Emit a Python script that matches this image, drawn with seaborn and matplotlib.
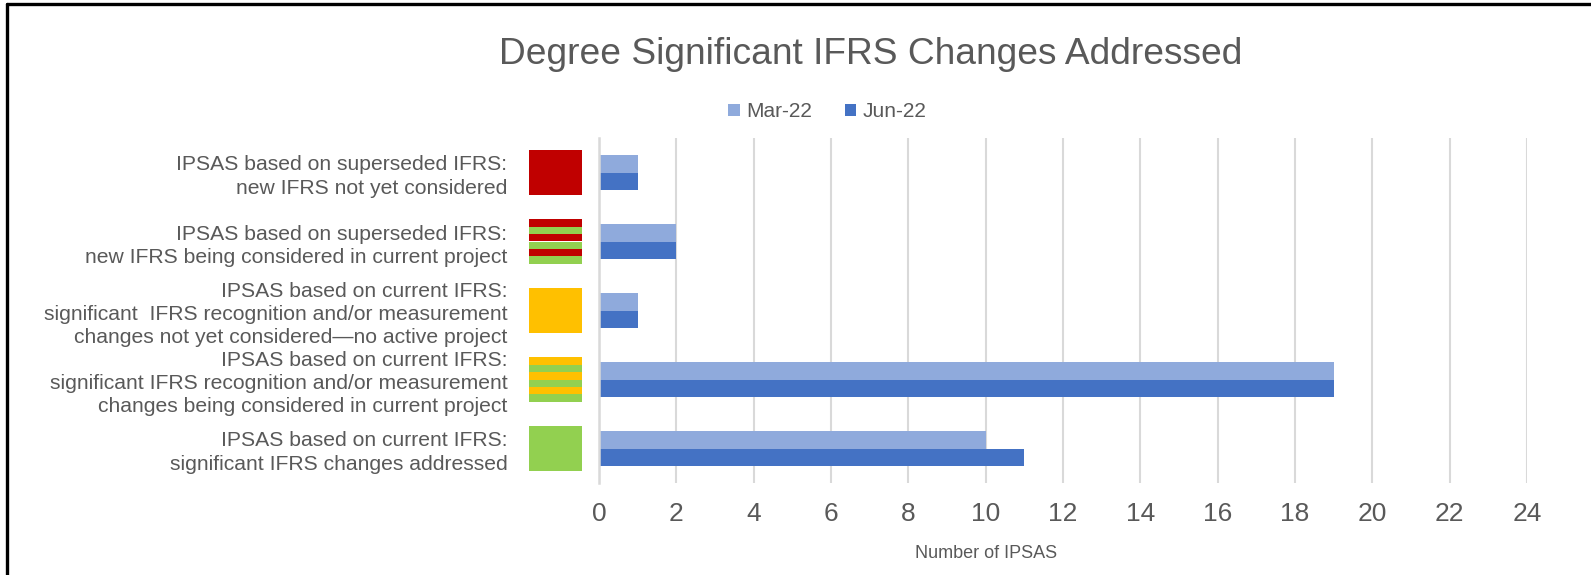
import matplotlib
matplotlib.use("Agg")
import matplotlib.pyplot as plt
import matplotlib.transforms as mtransforms
from matplotlib.patches import Rectangle
from matplotlib.lines import Line2D
import seaborn as sns
import pandas as pd

categories = [
    "IPSAS based on superseded IFRS:\nnew IFRS not yet considered",
    "IPSAS based on superseded IFRS:\nnew IFRS being considered in current project",
    "IPSAS based on current IFRS:\nsignificant  IFRS recognition and/or measurement\nchanges not yet considered\u2014no active project",
    "IPSAS based on current IFRS:\nsignificant IFRS recognition and/or measurement\nchanges being considered in current project",
    "IPSAS based on current IFRS:\nsignificant IFRS changes addressed",
]
series_names = ["Mar-22", "Jun-22"]
mar22 = [1, 2, 1, 19, 10]
jun22 = [1, 2, 1, 19, 11]
x_ticks = [0, 2, 4, 6, 8, 10, 12, 14, 16, 18, 20, 22, 24]
# icon colours per category (stripes alternate when two colours given)
icon_colors = [
    ["#C00000"],
    ["#C00000", "#92D050"],
    ["#FFC000"],
    ["#FFC000", "#92D050"],
    ["#92D050"],
]
series_colors = ["#8FAADC", "#4472C4"]

TEXT = "#595959"

df = pd.DataFrame({
    "category": categories * 2,
    "period": [series_names[0]] * len(categories) + [series_names[1]] * len(categories),
    "value": mar22 + jun22,
})

sns.set_theme(style="white")
plt.rcParams["font.family"] = ["Liberation Sans", "DejaVu Sans"]

fig = plt.figure(figsize=(15.91, 5.75), dpi=100)
ax = fig.add_axes([599 / 1591, 1 - 483 / 575, (1527 - 599) / 1591, (483 - 138) / 575])

sns.barplot(data=df, y="category", x="value", hue="period", order=categories,
            hue_order=series_names, palette=series_colors, orient="h",
            width=0.52, gap=0, saturation=1, ax=ax, legend=False, edgecolor="none")

ax.set_xlim(0, 24)
ax.set_ylim(len(categories) - 0.5, -0.5)
ax.set_xticks(x_ticks)
ax.set_xticklabels([str(t) for t in x_ticks], fontsize=19, color=TEXT)
ax.tick_params(axis="x", length=0, pad=14)
ax.tick_params(axis="y", length=0, pad=66)
for lbl in ax.get_yticklabels():
    lbl.set_fontsize(15.2)
    lbl.set_color(TEXT)
    lbl.set_linespacing(1.28)
    lbl.set_horizontalalignment("right")
ax.set_ylabel("")
ax.set_xlabel("")
ax.grid(axis="x", color="#D9D9D9", linewidth=1.5)
ax.set_axisbelow(True)
for s in ["top", "right", "bottom"]:
    ax.spines[s].set_visible(False)
ax.spines["left"].set_color("#D9D9D9")
ax.spines["left"].set_linewidth(1.8)

# status icons left of the axis
trans = mtransforms.blended_transform_factory(ax.transAxes, ax.transData)
x0 = (529 - 599) / 928
w = (582 - 529) / 928
h = 0.65
for i, cols in enumerate(icon_colors):
    top = i - h / 2
    if len(cols) == 1:
        ax.add_patch(Rectangle((x0, top), w, h, transform=trans, facecolor=cols[0],
                               edgecolor="none", clip_on=False))
    else:
        n = 6
        sh = h / n
        for k in range(n):
            ax.add_patch(Rectangle((x0, top + k * sh), w, sh, transform=trans,
                                   facecolor=cols[k % 2], edgecolor="none", clip_on=False))

fig.text(0.547, 1 - 55 / 575, "Degree Significant IFRS Changes Addressed",
         ha="center", va="center", fontsize=26.7, color=TEXT)
fig.text(0.62, 1 - 553 / 575, "Number of IPSAS", ha="center", va="center",
         fontsize=13, color=TEXT)

handles = [Rectangle((0, 0), 1, 1, facecolor=c, edgecolor="none") for c in series_colors]
leg = fig.legend(handles, series_names, loc="center", bbox_to_anchor=(0.52, 1 - 112 / 575),
                 ncol=2, frameon=False, fontsize=15, handlelength=0.55, handleheight=0.55,
                 handletextpad=0.3, columnspacing=1.6)
for t in leg.get_texts():
    t.set_color(TEXT)

# chart border lines (top and left)
fig.add_artist(Line2D([7 / 1591, 1], [1 - 4 / 575, 1 - 4 / 575], transform=fig.transFigure,
                      color="black", linewidth=2.4))
fig.add_artist(Line2D([7 / 1591, 7 / 1591], [0, 1 - 4 / 575], transform=fig.transFigure,
                      color="black", linewidth=2.4))

fig.savefig("out.png", dpi=100)
